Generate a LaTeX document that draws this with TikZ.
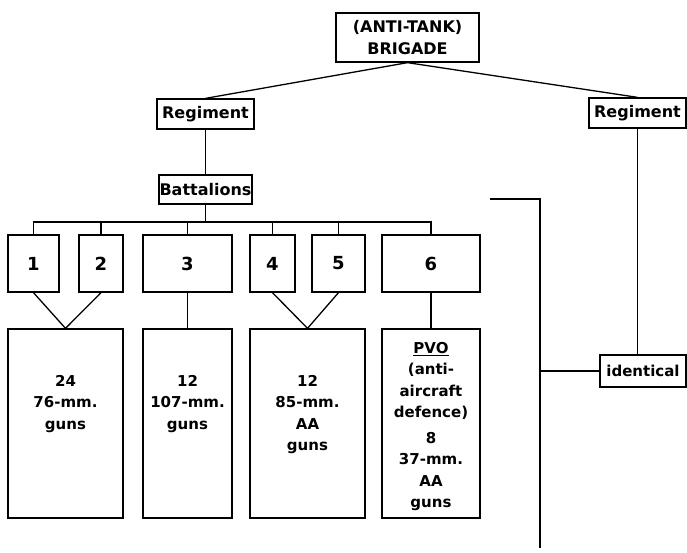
\documentclass[tikz,border=0pt]{standalone}
\usepackage{fontspec}
\setmainfont{DejaVu Sans}
\usepackage{tikz}
\usetikzlibrary{positioning}

\newcommand{\gunlist}[2]{\parbox[c][189pt][t]{88pt}{\centering\vspace*{#1}#2}}

\begin{document}
\begin{tikzpicture}[unit/.style={draw, line width=1.3pt, inner sep=0pt, align=center, font=\bfseries\fontsize{16}{22}\selectfont},
	num/.style={unit, minimum height=57pt, font=\bfseries\fontsize{18}{20}\selectfont},
	guns/.style={unit, minimum height=189pt, font=\bfseries\fontsize{15}{21.5}\selectfont},
	line width=1.3pt, node distance=75pt, on grid]
		\useasboundingbox (0,0) rectangle (687pt,-552pt);
		\node[unit, minimum width=143pt, minimum height=49pt] (brig) at (407.5pt,-37.5pt) {(ANTI-TANK)\\BRIGADE};
		\node[unit, minimum width=97pt, minimum height=30pt] (regL) [below left=76.5pt and 202pt of brig] {Regiment};
		\node[unit, minimum width=97pt, minimum height=30pt] (regR) [below right=75.5pt and 230pt of brig] {Regiment};
		\node[unit, minimum width=93pt, minimum height=29pt] (batt) [below=75.5pt of regL] {Battalions};
		\node[num, minimum width=51pt] (b1) [below left=74pt and 172pt of batt] {1};
		\node[num, minimum width=44pt] (b2) [right=67.5pt of b1] {2};
		\node[num, minimum width=89pt] (b3) [right=86.5pt of b2] {3};
		\node[num, minimum width=45pt] (b4) [right=85pt of b3] {4};
		\node[num, minimum width=53pt] (b5) [right=66pt of b4] {5};
		\node[num, minimum width=98pt] (b6) [right=92.5pt of b5] {6};
		\node[guns, minimum width=115pt] (gA) [below right=160pt and 32pt of b1] {\gunlist{46pt}{24\\76-mm.\\guns}};
		\node[guns, minimum width=89pt] (gB) [below=160pt of b3] {\gunlist{46pt}{12\\107-mm.\\guns}};
		\node[guns, minimum width=115pt] (gC) [below right=160pt and 35pt of b4] {\gunlist{46pt}{12\\85-mm.\\AA\\guns}};
		\node[guns, minimum width=98pt] (gD) [below=160pt of b6] {\gunlist{13pt}{\underline{PVO}\\(anti-\\aircraft\\defence)\\[4pt]8\\37-mm.\\AA\\guns}};
		\node[unit, minimum width=86pt, minimum height=32pt, font=\bfseries\fontsize{15}{18}\selectfont] (ident) [below right=258pt and 5.5pt of regR] {identical};

		\coordinate (bus) at (0,-222pt);
		\coordinate (brtop) at (490pt,-199pt);
		\coordinate (brbot) at (540pt,-548pt);

		\draw (brig.south) -- (regL.north);
		\draw (brig.south) -- (regR.north);
		\draw (regL) -- (batt);
		\draw (batt.south) -- (batt.south |- bus);
		\draw (b1.north) |- (b6.north |- bus) -- (b6.north);
		\foreach \b in {b2,b3,b4,b5}
			\draw (\b.north) -- (\b.north |- bus);
		\draw (b1.south) -- (gA.north) -- (b2.south);
		\draw (b4.south) -- (gC.north) -- (b5.south);
		\draw (b3) -- (gB);
		\draw (b6) -- (gD);
		\draw (regR.south) -- (regR.south |- ident.north);
		\draw (brtop) -| (brbot);
		\draw (ident.west) -- (ident.west -| brbot);
	\end{tikzpicture}
\end{document}
